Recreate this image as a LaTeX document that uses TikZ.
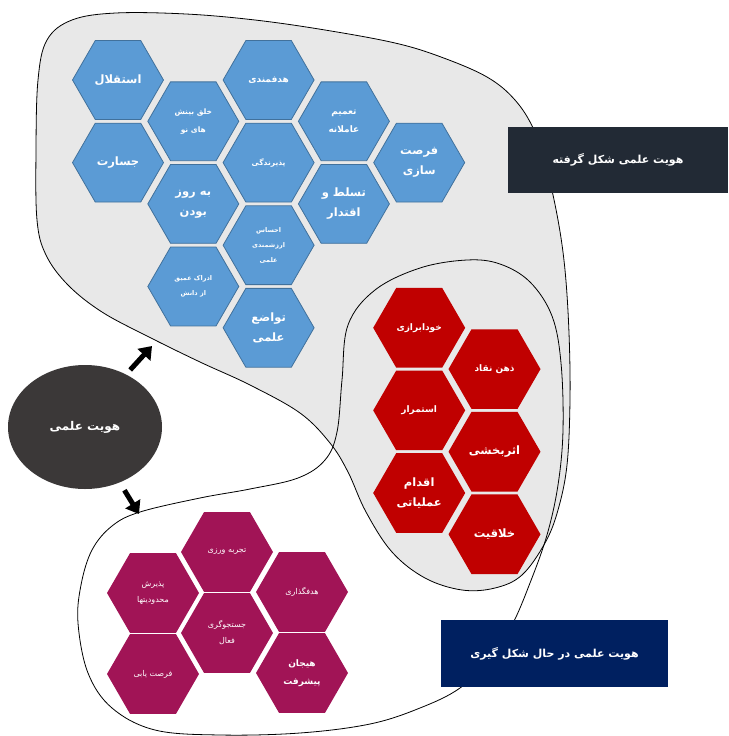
\documentclass[tikz,border=0pt]{standalone}
\usepackage{fontspec}
\newfontfamily\farsi[Script=Arabic]{DejaVu Sans}
\TeXXeTstate=1
\definecolor{BleuCompetence}{HTML}{5B9BD5}
\definecolor{BleuContour}{HTML}{41719C}
\definecolor{RougeCompetence}{HTML}{C00000}
\definecolor{PruneCompetence}{HTML}{A11456}
\definecolor{GrisZone}{HTML}{E8E8E8}
\definecolor{NoirNoyau}{HTML}{3B3838}
\definecolor{ArdoiseEtiquette}{HTML}{222A35}
\definecolor{MarineEtiquette}{HTML}{002060}
\usetikzlibrary{shapes.geometric}
\usetikzlibrary{arrows.meta}
\usetikzlibrary{positioning}
\newcommand{\fa}[1]{\beginR #1\endR}
\tikzset{
	hexa/.style={regular polygon, regular polygon sides=6, minimum size=92pt,
		inner sep=0pt, align=center, text=white},
	hexbleu/.style={hexa, fill=BleuCompetence, draw=BleuContour, line width=0.8pt, minimum size=91pt},
	hexrouge/.style={hexa, fill=RougeCompetence},
	hexprune/.style={hexa, fill=PruneCompetence},
	grand/.style={font=\farsi\bfseries\fontsize{11.5}{20}\selectfont},
	moyen/.style={font=\farsi\bfseries\fontsize{9}{18}\selectfont},
	petit/.style={font=\farsi\bfseries\fontsize{7.5}{18}\selectfont},
	minus/.style={font=\farsi\bfseries\fontsize{6.5}{15}\selectfont},
	leger/.style={font=\farsi\fontsize{8}{16}\selectfont},
	boite/.style={rectangle, inner sep=0pt, text=white, font=\farsi\bfseries\fontsize{11}{13}\selectfont},
	fleche/.style={line width=5pt, arrows={-Triangle[length=12pt, width=17pt]}}
}
\begin{document}
\begin{tikzpicture}[x=1pt, y=-1pt]
    \useasboundingbox (0,0) rectangle (728,736);
    % la zone grise et la zone en formation
    \draw[fill=GrisZone, line width=0.8pt] plot[smooth cycle, tension=0.6] coordinates {
        (116,13) (186,14) (255,20) (325,30) (395,43) (441,57) (487,77) (515,100)
        (534,130) (547,170) (558,220) (565,270) (569,333) (570,400) (567,465)
        (558,510) (545,543) (522,575) (495,588) (462,590) (425,578) (392,552)
        (366,512) (348,472) (330,443) (300,413) (250,385) (200,362) (149,337)
        (102,312) (68,285) (46,255) (37,220) (36,150) (38,80) (47,40) (72,20)};
    \draw[line width=0.8pt] plot[smooth cycle, tension=0.6] coordinates {
        (467,260) (500,264) (530,282) (552,316) (561,363) (563,430) (558,485)
        (547,535) (530,583) (512,625) (490,658) (460,688) (420,708) (370,724)
        (300,733) (220,735) (155,730) (112,708) (88,673) (78,623) (81,585)
        (92,550) (112,526) (140,512) (200,498) (250,489) (298,478) (325,460)
        (337,432) (342,380) (348,325) (375,290) (420,268)};

    % hexagones bleus
    \node[hexbleu, grand] (istiqlal) at (118,80) {\fa{استقلال}};
    \node[hexbleu, grand] (jasarat) at (118,162.6) {\fa{جسارت}};
    \node[hexbleu, petit] (khalq) at (193.3,121.3) {\fa{خلق بینش}\\\fa{های نو}};
    \node[hexbleu, grand] (beruz) at (193.3,203.9) {\fa{به روز}\\\fa{بودن}};
    \node[hexbleu, minus] (edrak) at (193.3,286.5) {\fa{ادراک عمیق}\\\fa{از دانش}};
    \node[hexbleu, moyen] (hadaf) at (268.6,80) {\fa{هدفمندی}};
    \node[hexbleu, petit] (pazir) at (268.6,162.6) {\fa{پذیرندگی}};
    \node[hexbleu, minus] (ehsas) at (268.6,245.2) {\fa{احساس}\\\fa{ارزشمندی}\\\fa{علمی}};
    \node[hexbleu, grand] (tavazo) at (268.6,327.8) {\fa{تواضع}\\\fa{علمی}};
    \node[hexbleu, moyen] (tamim) at (343.9,121.3) {\fa{تعمیم}\\\fa{عاملانه}};
    \node[hexbleu, grand] (tasalot) at (343.9,203.9) {\fa{تسلط و}\\\fa{اقتدار}};
    \node[hexbleu, grand] (forsat) at (419.2,162.6) {\fa{فرصت}\\\fa{سازی}};

    % hexagones rouges
    \node[hexrouge, moyen] (khod) at (419.2,327.8) {\fa{خودابرازی}};
    \node[hexrouge, moyen] (zehn) at (494.5,369.1) {\fa{ذهن نقاد}};
    \node[hexrouge, moyen] (estemrar) at (419.2,410.4) {\fa{استمرار}};
    \node[hexrouge, grand] (asar) at (494.5,451.7) {\fa{اثربخشی}};
    \node[hexrouge, grand] (eqdam) at (419.2,493) {\fa{اقدام}\\\fa{عملیاتی}};
    \node[hexrouge, grand] (khallaq) at (494.5,534.3) {\fa{خلاقیت}};

    % hexagones prune
    \node[hexprune, leger] (tajrobe) at (227,552) {\fa{تجربه ورزی}};
    \node[hexprune, leger] (paziresh) at (153,593) {\fa{پذیرش}\\\fa{محدودیتها}};
    \node[hexprune, leger] (hadafgozari) at (302,592) {\fa{هدفگذاری}};
    \node[hexprune, leger] (jostoju) at (227,633) {\fa{جستجوگری}\\\fa{فعال}};
    \node[hexprune, leger] (forsatyabi) at (153,674) {\fa{فرصت یابی}};
    \node[hexprune, moyen] (hayajan) at (302,673) {\fa{هیجان}\\\fa{پیشرفت}};

    % etiquettes
    \node[boite, fill=ArdoiseEtiquette, minimum width=220pt, minimum height=66pt] (forme) at (618,160) {\fa{هویت علمی شکل گرفته}};
    \node[boite, fill=MarineEtiquette, minimum width=227pt, minimum height=67pt] (encours) at (554.5,653.5) {\fa{هویت علمی در حال شکل گیری}};

    % noyau et fleches
    \node[ellipse, fill=NoirNoyau, minimum width=154pt, minimum height=124pt, text=white,
        font=\farsi\bfseries\fontsize{12}{14}\selectfont] (noyau) at (85,427) {\fa{هویت علمی}};
    \coordinate (versForme) at (152,346);
    \coordinate (versEnCours) at (139,514);
    \draw[fleche, shorten <=6pt] (noyau.52) -- (versForme);
    \draw[fleche, shorten <=9pt] (noyau.-58) -- (versEnCours);
\end{tikzpicture}
\end{document}
